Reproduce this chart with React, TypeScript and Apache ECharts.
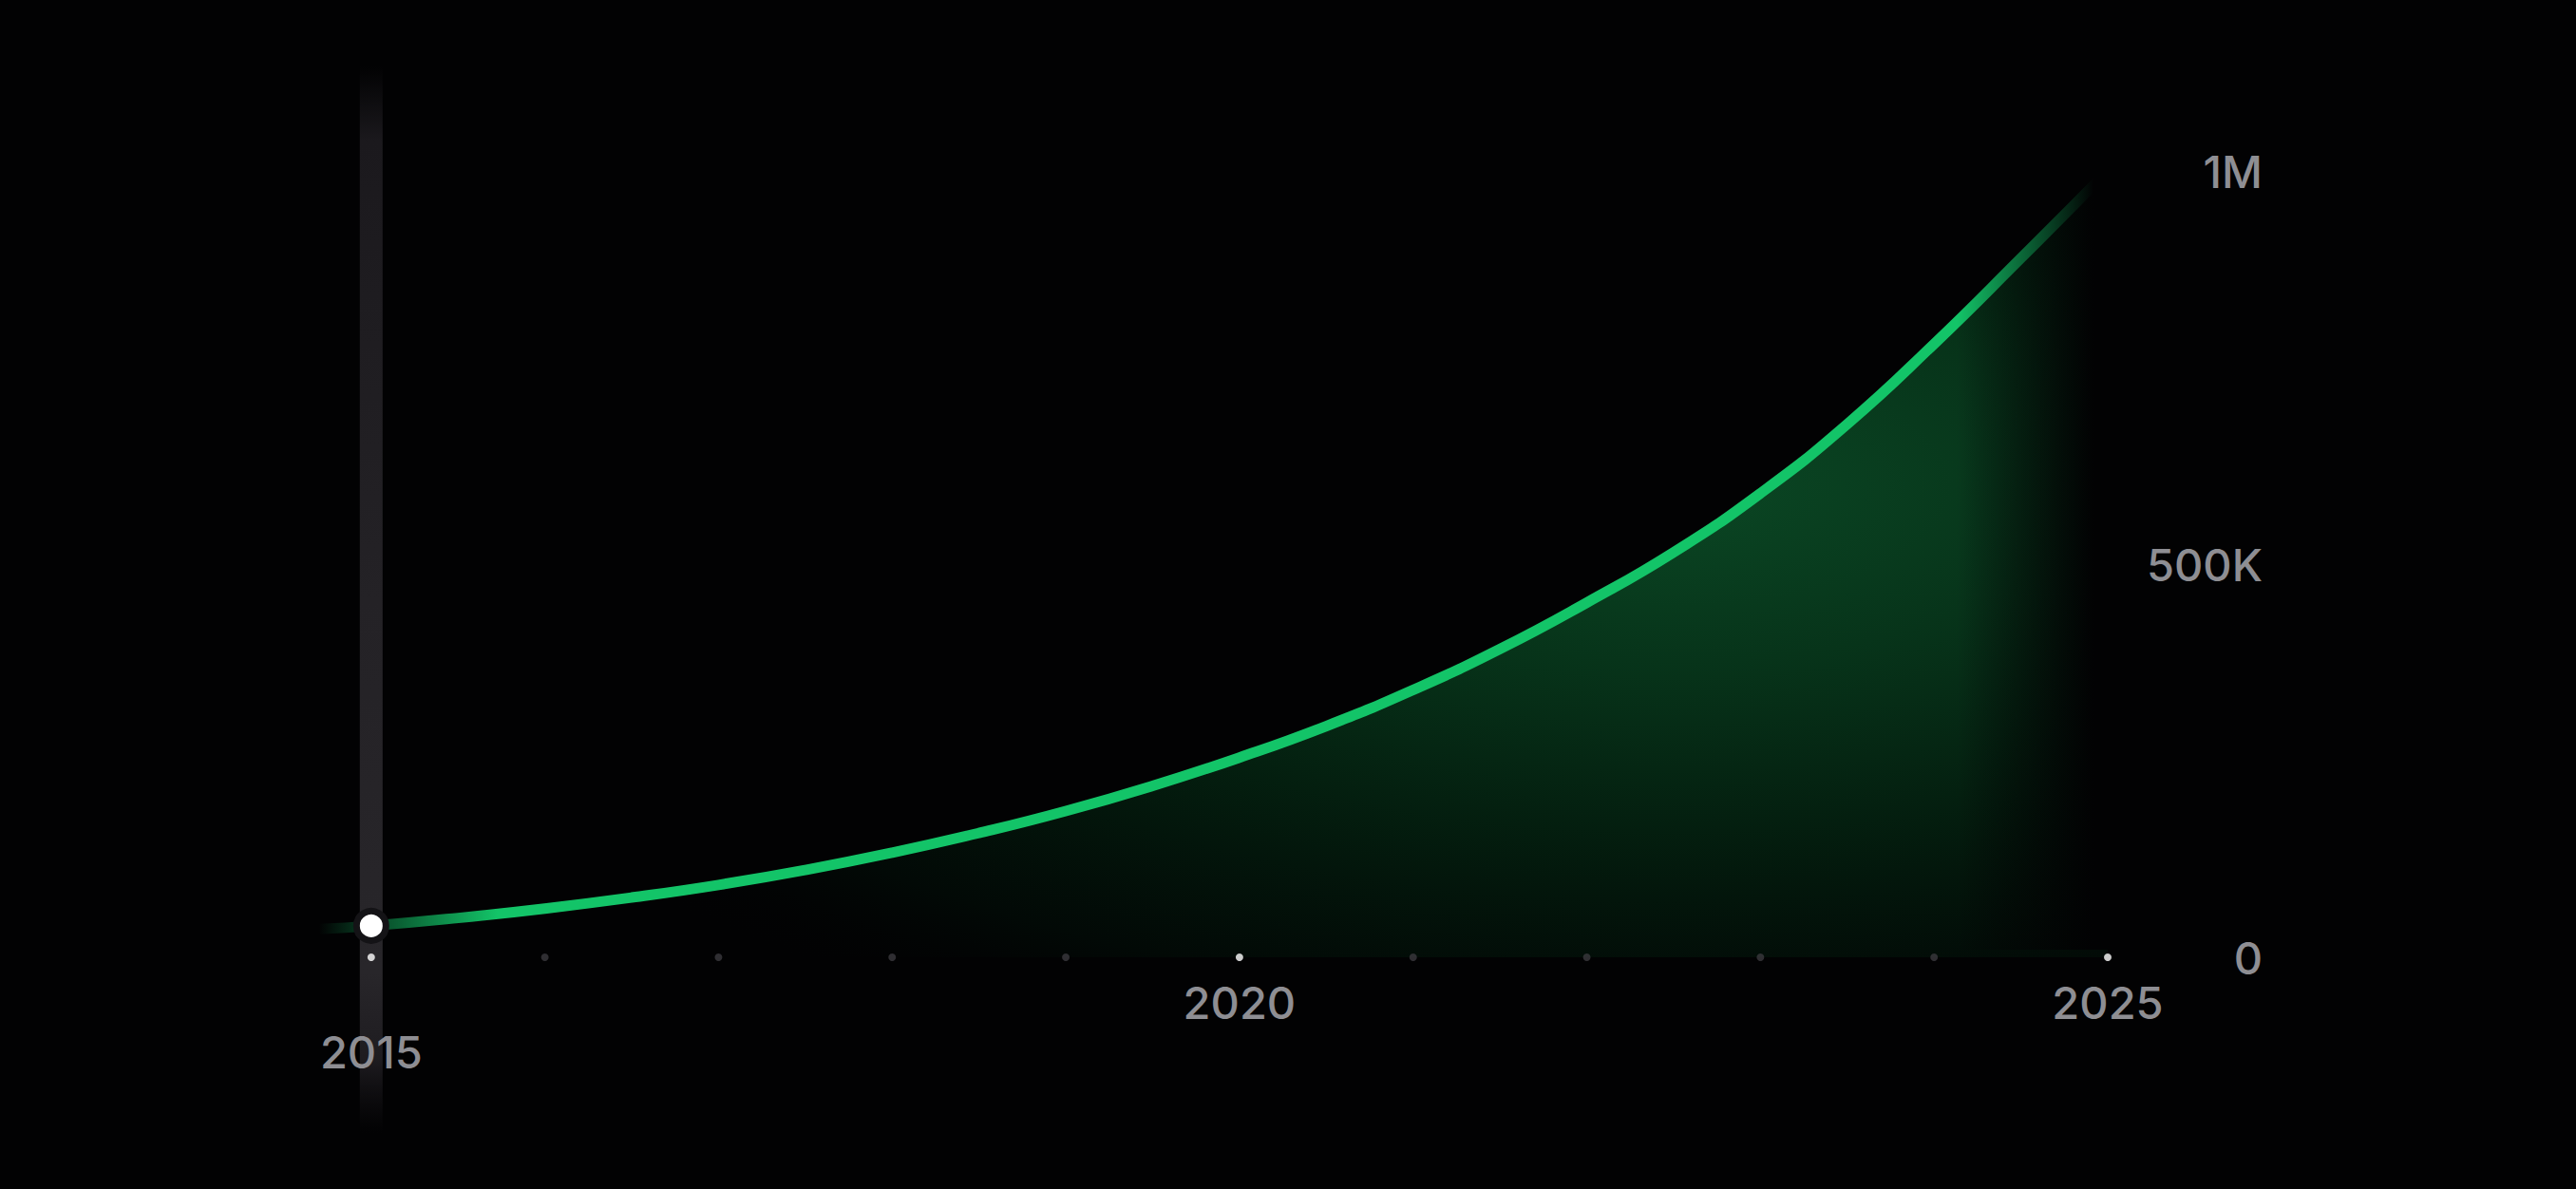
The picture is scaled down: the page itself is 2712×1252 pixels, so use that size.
import React, { useEffect, useRef } from "react";
import * as echarts from "echarts";

// values every half year (first point is the faded lead-in left of 2015)
const years = [
  2014.7, 2015, 2015.5, 2016, 2016.5, 2017, 2017.5, 2018, 2018.5, 2019, 2019.5,
  2020, 2020.5, 2021, 2021.5, 2022, 2022.5, 2023, 2023.5, 2024, 2024.5, 2025,
];
const users = [
  36000, 40000, 50000, 62000, 76000, 92000, 111000, 133000, 158000, 186000, 218000,
  254000, 294000, 340000, 392000, 451000, 515000, 590000, 678000, 780000, 889000, 1000000,
];

const tickYears = [2015, 2016, 2017, 2018, 2019, 2020, 2021, 2022, 2023, 2024, 2025];
const labelYears = [2015, 2020, 2025];
const selectedYear = 2015;

const yTicks = [0, 500000, 1000000];
const yTickLabels = ["0", "500K", "1M"];

const BG = "#020203";
const LABEL = "#8e8e93";
const FONT = "Inter, 'Noto Sans', sans-serif";

const App: React.FC = () => {
  const chartRef = useRef<HTMLDivElement>(null);

  useEffect(() => {
    if (!chartRef.current) return;
    document.body.style.margin = "0";
    document.body.style.background = BG;

    const chart = echarts.init(chartRef.current, undefined, { renderer: "svg" });

    const selIdx = years.indexOf(selectedYear);

    const option: echarts.EChartsOption = {
      animation: false,
      backgroundColor: BG,
      grid: { left: 208, right: 493, top: 180, bottom: 244 },
      xAxis: {
        type: "value",
        z: 8,
        min: 2014,
        max: 2025,
        interval: 1,
        axisLine: { show: false },
        axisTick: { show: false },
        splitLine: { show: false },
        axisLabel: {
          margin: 19,
          formatter: (v: number) => {
            if (!labelYears.includes(v)) return "";
            return v === selectedYear ? `{sel|${v}}` : `{reg|${v}}`;
          },
          rich: {
            reg: { fontSize: 47, lineHeight: 56, color: LABEL, fontFamily: FONT, fontWeight: 500 },
            sel: { fontSize: 47, lineHeight: 160, color: LABEL, fontFamily: FONT, fontWeight: 500 },
          },
        },
      },
      yAxis: {
        type: "value",
        position: "right",
        min: 0,
        max: 1000000,
        interval: 500000,
        axisLine: { show: false },
        axisTick: { show: false },
        splitLine: { show: false },
        axisLabel: {
          align: "right",
          margin: 163,
          fontSize: 47,
          fontWeight: 500,
          fontFamily: FONT,
          color: LABEL,
          formatter: (v: number) => yTickLabels[yTicks.indexOf(v)] ?? "",
        },
      },
      graphic: [
        {
          // right edge fade over line and area
          type: "rect",
          z: 3,
          silent: true,
          shape: { x: 2060, y: 140, width: 180, height: 860 },
          style: {
            fill: new echarts.graphic.LinearGradient(0, 0, 1, 0, [
              { offset: 0, color: "rgba(2,2,3,0)" },
              { offset: 0.8, color: "rgba(2,2,3,1)" },
              { offset: 1, color: "rgba(2,2,3,1)" },
            ]),
          },
        },
      ],
      series: [
        {
          type: "line",
          data: years.map((y, i) => [y, users[i]]),
          smooth: 0.5,
          showSymbol: false,
          z: 2,
          lineStyle: {
            width: 11,
            color: new echarts.graphic.LinearGradient(0, 0, 1, 0, [
              { offset: 0, color: "rgba(19,196,104,0)" },
              { offset: 0.03, color: "rgba(19,196,104,0.35)" },
              { offset: 0.1, color: "rgba(19,196,104,1)" },
              { offset: 1, color: "rgba(19,196,104,1)" },
            ]),
          },
          areaStyle: {
            origin: "start",
            color: new echarts.graphic.RadialGradient(0.76, 0.4, 0.78, [
              { offset: 0, color: "rgba(14,100,50,1)" },
              { offset: 0.3, color: "rgba(9,72,35,1)" },
              { offset: 0.6, color: "rgba(4,38,18,1)" },
              { offset: 0.85, color: "rgba(2,14,8,0.85)" },
              { offset: 1, color: "rgba(2,2,3,0)" },
            ]),
          },
        },
        {
          // highlight column behind the selected year
          type: "custom",
          z: 3,
          silent: true,
          data: [[selectedYear, 0]],
          renderItem: (params: any, api: any) => {
            const pt = api.coord([api.value(0), 0]);
            const cs = params.coordSys;
            const top = cs.y - 110;
            return {
              type: "rect",
              shape: { x: pt[0] - 12, y: top, width: 24, height: cs.height + 110 + 185 },
              style: {
                fill: new echarts.graphic.LinearGradient(0, 0, 0, 1, [
                  { offset: 0, color: "rgba(27,25,29,0)" },
                  { offset: 0.07, color: "rgba(27,25,29,1)" },
                  { offset: 0.5, color: "rgba(36,34,38,1)" },
                  { offset: 0.85, color: "rgba(40,38,42,1)" },
                  { offset: 0.93, color: "rgba(30,28,32,1)" },
                  { offset: 1, color: "rgba(20,18,22,0)" },
                ]),
              },
            };
          },
        },
        {
          // dots on the baseline, one per year
          type: "scatter",
          z: 5,
          silent: true,
          symbolSize: 8,
          data: tickYears.map((y) => ({
            value: [y, 0],
            itemStyle: { color: labelYears.includes(y) ? "#ffffff" : "#3b3a3e" },
          })),
        },
        {
          type: "scatter",
          z: 6,
          silent: true,
          symbolSize: 31,
          itemStyle: { color: "#ffffff", borderColor: "#141316", borderWidth: 7, opacity: 1 },
          data: [[selectedYear, users[selIdx]]],
        },
      ],
    };

    chart.setOption(option as any);

    return () => {
      chart.dispose();
    };
  }, []);

  return <div ref={chartRef} style={{ width: "2712px", height: "1252px" }} />;
};

export default App;
